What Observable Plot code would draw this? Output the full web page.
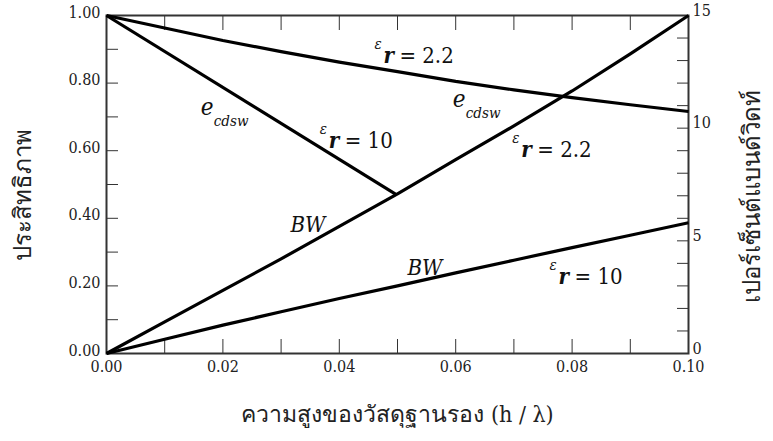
<!DOCTYPE html>
<html><head><meta charset="utf-8">
<script src="https://cdn.jsdelivr.net/npm/d3@7"></script>
<script src="https://cdn.jsdelivr.net/npm/@observablehq/plot@0.6"></script>
<style>
body{margin:0;background:#fff;}
#chart svg{display:block;}
#chart svg text{font-family:"DejaVu Serif Condensed","DejaVu Serif",serif !important;font-stretch:condensed;}
</style></head><body><div id="chart"></div>
<script>
// substrate height h/λ
const h = [0, 0.01, 0.02, 0.03, 0.04, 0.05, 0.06, 0.07, 0.08, 0.09, 0.10];
// efficiency e_cdsw, εr = 2.2
const eff22 = [1.00, 0.963, 0.926, 0.893, 0.862, 0.834, 0.805, 0.780, 0.757, 0.736, 0.716];
// efficiency e_cdsw, εr = 10 (ends where it meets BW curve)
const eff10H = [0, 0.0498];
const eff10 = [1.00, 0.470];
// bandwidth percent, εr = 2.2 and εr = 10
const bw22 = [0, 1.4, 2.8, 4.2, 5.64, 7.08, 8.6, 10.1, 11.65, 13.3, 15.0];
const bw10 = [0, 0.63, 1.26, 1.85, 2.44, 3.0, 3.58, 4.14, 4.7, 5.25, 5.8];

const xTickLabels = [0, 0.02, 0.04, 0.06, 0.08, 0.10];
const xMinorTicks = d3.range(0, 11).map(i => i / 100);
const yTickLabels = [0, 0.2, 0.4, 0.6, 0.8, 1.0];
const yMinorTicks = d3.range(0, 11).map(i => i / 10);
const pctMax = 15;
const pctTickLabels = [0, 5, 10, 15];
const pctMinorTicks = d3.range(0, 16);

const yTitle = "ประสิทธิภาพ";
const y2Title = "เปอร์เซ็นต์แบนด์วิดท์";
const xTitle = "ความสูงของวัสดุฐานรอง (h / λ)";

// annotation anchors (data units, baseline of text)
const epsLabels = [
  {x: 0.0462, y: 0.858, v: "2.2"},
  {x: 0.0368, y: 0.609, v: "10"},
  {x: 0.0699, y: 0.580, v: "2.2"},
  {x: 0.0763, y: 0.207, v: "10"}
];
const ecdswLabels = [
  {x: 0.0162, y: 0.707},
  {x: 0.0595, y: 0.728}
];
const bwLabels = [
  {x: 0.0316, y: 0.358},
  {x: 0.0517, y: 0.231}
];

const toLeft = v => v / pctMax;

const effLine22 = h.map((x, i) => ({x, y: eff22[i]}));
const effLine10 = eff10H.map((x, i) => ({x, y: eff10[i]}));
const bwLine22 = h.map((x, i) => ({x, y: toLeft(bw22[i])}));
const bwLine10 = h.map((x, i) => ({x, y: toLeft(bw10[i])}));

const lineStyle = {x: "x", y: "y", stroke: "#000", strokeWidth: 3.2, strokeLinecap: "butt"};
const ann = {x: "x", y: "y", textAnchor: "start", lineAnchor: "bottom", fill: "#111"};

const chart = Plot.plot({
  width: 773,
  height: 441,
  marginLeft: 106,
  marginRight: 85,
  marginTop: 15,
  marginBottom: 88,
  x: {domain: [0, 0.1]},
  y: {domain: [0, 1]},
  style: {fontSize: "16px", color: "#222", background: "transparent", overflow: "visible"},
  marks: [
    // minor ticks (inward)
    Plot.axisX(xMinorTicks, {anchor: "bottom", tickSize: -14, tickFormat: () => "", label: null, stroke: "#333"}),
    Plot.axisX(xMinorTicks, {anchor: "top", tickSize: -14, tickFormat: () => "", label: null, stroke: "#333"}),
    Plot.axisY(yMinorTicks, {anchor: "left", tickSize: -12, tickFormat: () => "", label: null, stroke: "#333"}),
    Plot.axisY(pctMinorTicks.map(toLeft), {anchor: "right", tickSize: -12, tickFormat: () => "", label: null, stroke: "#333"}),
    // labels
    Plot.axisX(xTickLabels, {anchor: "bottom", tickSize: 0, tickPadding: 7, tickFormat: d3.format(".2f"), label: null, fontSize: 16}),
    Plot.axisY(yTickLabels, {anchor: "left", tickSize: 0, tickPadding: 6, dy: -3, tickFormat: d3.format(".2f"), label: null, fontSize: 16}),
    Plot.axisY(pctTickLabels.map(toLeft), {anchor: "right", tickSize: 0, tickPadding: 4, dy: -5, tickFormat: d => String(Math.round(d * pctMax)), label: null, fontSize: 16}),
    Plot.frame({stroke: "#333", strokeWidth: 2}),
    // curves
    Plot.line(effLine22, lineStyle),
    Plot.line(effLine10, lineStyle),
    Plot.line(bwLine22, lineStyle),
    Plot.line(bwLine10, lineStyle),
    // εr labels
    Plot.text(epsLabels, {...ann, text: () => "ε", fontStyle: "italic", fontSize: 15, dx: -1, dy: -14}),
    Plot.text(epsLabels, {...ann, text: () => "r", fontStyle: "italic", fontWeight: "bold", fontSize: 22, dx: 8}),
    Plot.text(epsLabels, {...ann, text: d => "= " + d.v, fontSize: 22, dx: 24}),
    // e_cdsw labels
    Plot.text(ecdswLabels, {...ann, text: () => "e", fontStyle: "italic", fontSize: 24}),
    Plot.text(ecdswLabels, {...ann, text: () => "cdsw", fontStyle: "italic", fontSize: 15, dx: 13, dy: 11}),
    // BW labels
    Plot.text(bwLabels, {...ann, text: () => "BW", fontStyle: "italic", fontSize: 22}),
    // axis titles
    Plot.text([yTitle], {text: d => d, frameAnchor: "left", textAnchor: "middle", dx: -83, dy: 10, rotate: -90, fontSize: 24, fill: "#222"}),
    Plot.text([y2Title], {text: d => d, frameAnchor: "right", textAnchor: "middle", dx: 64, dy: 12, rotate: -90, fontSize: 24, fill: "#222"}),
    Plot.text([xTitle], {text: d => d, frameAnchor: "bottom", textAnchor: "middle", dy: 68, fontSize: 23, fill: "#222"})
  ]
});
document.getElementById("chart").appendChild(chart);
</script>
</body></html>
